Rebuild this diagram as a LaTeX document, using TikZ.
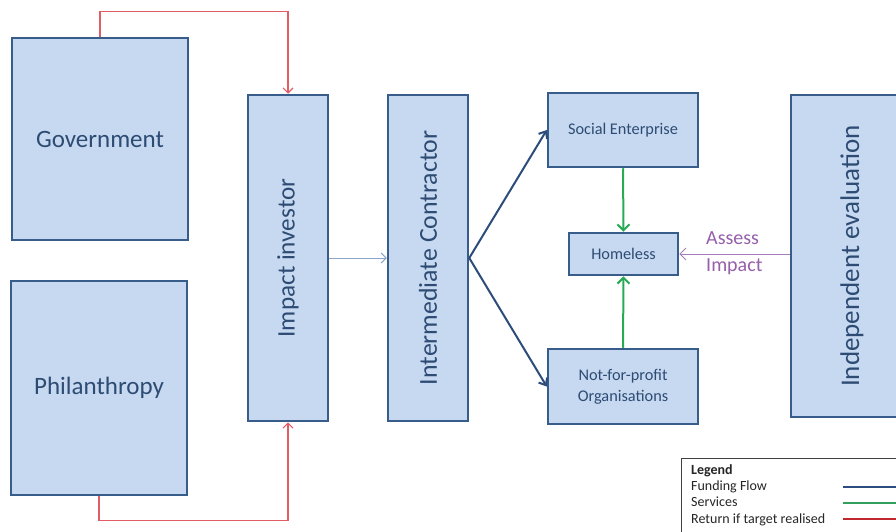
\documentclass[tikz,border=0pt]{standalone}
\usepackage{fontspec}
\setmainfont{Carlito}
\usetikzlibrary{arrows.meta}
\definecolor{boxfill}{RGB}{198,217,241}
\definecolor{boxline}{RGB}{56,93,138}
\definecolor{boxtext}{RGB}{45,75,115}
\definecolor{retred}{RGB}{226,92,102}
\definecolor{svcgreen}{RGB}{40,170,85}
\definecolor{fundblue}{RGB}{44,77,122}
\definecolor{lightfund}{RGB}{140,165,200}
\definecolor{assesspurple}{RGB}{150,95,170}
\definecolor{assessline}{RGB}{165,125,190}
\definecolor{legblue}{RGB}{44,77,130}
\definecolor{leggreen}{RGB}{50,160,90}
\definecolor{legred}{RGB}{192,40,45}
\tikzset{
  box/.style={draw=boxline, fill=boxfill, line width=2.5pt, inner sep=0pt,
    text=boxtext, align=center},
  bigtext/.style={font=\fontsize{25}{30}\selectfont},
  smalltext/.style={font=\fontsize{16.3}{21}\selectfont},
  retarrow/.style={draw=retred, line width=1.2pt, -{Straight Barb[length=5pt,width=10pt]}},
  svcarrow/.style={draw=svcgreen, line width=2pt, -{Straight Barb[length=6pt,width=12pt]}},
  fundarrow/.style={draw=fundblue, line width=2pt, -{Straight Barb[length=6pt,width=10pt]}},
  lightarrow/.style={draw=lightfund, line width=1pt, -{Straight Barb[length=5pt,width=10pt]}},
  assessarrow/.style={draw=assessline, line width=1pt, -{Straight Barb[length=6pt,width=12pt]}},
  legtext/.style={anchor=base west, inner sep=0pt, font=\fontsize{14}{16}\selectfont, text=black!85},
}
\begin{document}
\begin{tikzpicture}[x=1pt,y=-1pt]
\clip (0,0) rectangle (896,532);
\fill[white] (0,0) rectangle (896,532);
% boxes
\node[box, bigtext, minimum width=176, minimum height=202] (gov) at (100,139) {Government};
\node[box, bigtext, minimum width=176, minimum height=214] (phil) at (99,388) {Philanthropy};
\node[box, minimum width=80, minimum height=326] (inv) at (288,258)
  {\rotatebox{90}{\fontsize{25.2}{28}\selectfont Impact investor}};
\node[box, minimum width=80, minimum height=326] (ic) at (428,258)
  {\rotatebox{90}{\fontsize{25.8}{28}\selectfont Intermediate Contractor}};
\node[box, smalltext, minimum width=150, minimum height=74] (se) at (623,130) {Social Enterprise};
\node[box, smalltext, minimum width=109, minimum height=42] (hl) at (623.5,254) {Homeless};
\node[box, smalltext, minimum width=150, minimum height=75] (nfp) at (623,386.5) {Not-for-profit\\Organisations};
\node[box, minimum width=122, minimum height=322] (ie) at (852,256)
  {\rotatebox{90}{\fontsize{27}{30}\selectfont Independent evaluation}};
% return flows
\draw[retarrow] (gov.north) -- ++(0,-25) -| (inv.north);
\draw[retarrow] (phil.south) -- ++(0,24) -| (inv.south);
% funding flows
\draw[lightarrow] (inv.east) -- (ic.west);
\draw[fundarrow] (ic.east) -- (se.west);
\draw[fundarrow] (ic.east) -- (nfp.west);
% services
\draw[svcarrow] (se.south) -- (hl.north);
\draw[svcarrow] (nfp.north) -- (hl.south);
% assess impact
\draw[assessarrow] (hl.east -| ie.west) -- (hl.east);
\node[anchor=west, align=left, inner sep=0pt, text=assesspurple,
  font=\fontsize{20}{27}\selectfont] (assess) at (706,253) {Assess\\Impact};
% legend
\node[draw=black!75, line width=0.8pt, minimum width=240, minimum height=90, anchor=north west] (legend) at (681,458) {};
\node[legtext] (legtitle) at (691,474) {\textbf{Legend}};
\node[legtext] (legfund) at (691,490) {Funding Flow};
\node[legtext] (legsvc) at (691,506) {Services};
\node[legtext] (legret) at (691,523) {Return if target realised};
\coordinate (lf1) at (843,487); \coordinate (lf2) at (900,487);
\coordinate (ls1) at (843,503); \coordinate (ls2) at (900,503);
\coordinate (lr1) at (843,519); \coordinate (lr2) at (900,519);
\draw[legblue, line width=2pt] (lf1) -- (lf2);
\draw[leggreen, line width=2pt] (ls1) -- (ls2);
\draw[legred, line width=2pt] (lr1) -- (lr2);
\end{tikzpicture}
\end{document}
